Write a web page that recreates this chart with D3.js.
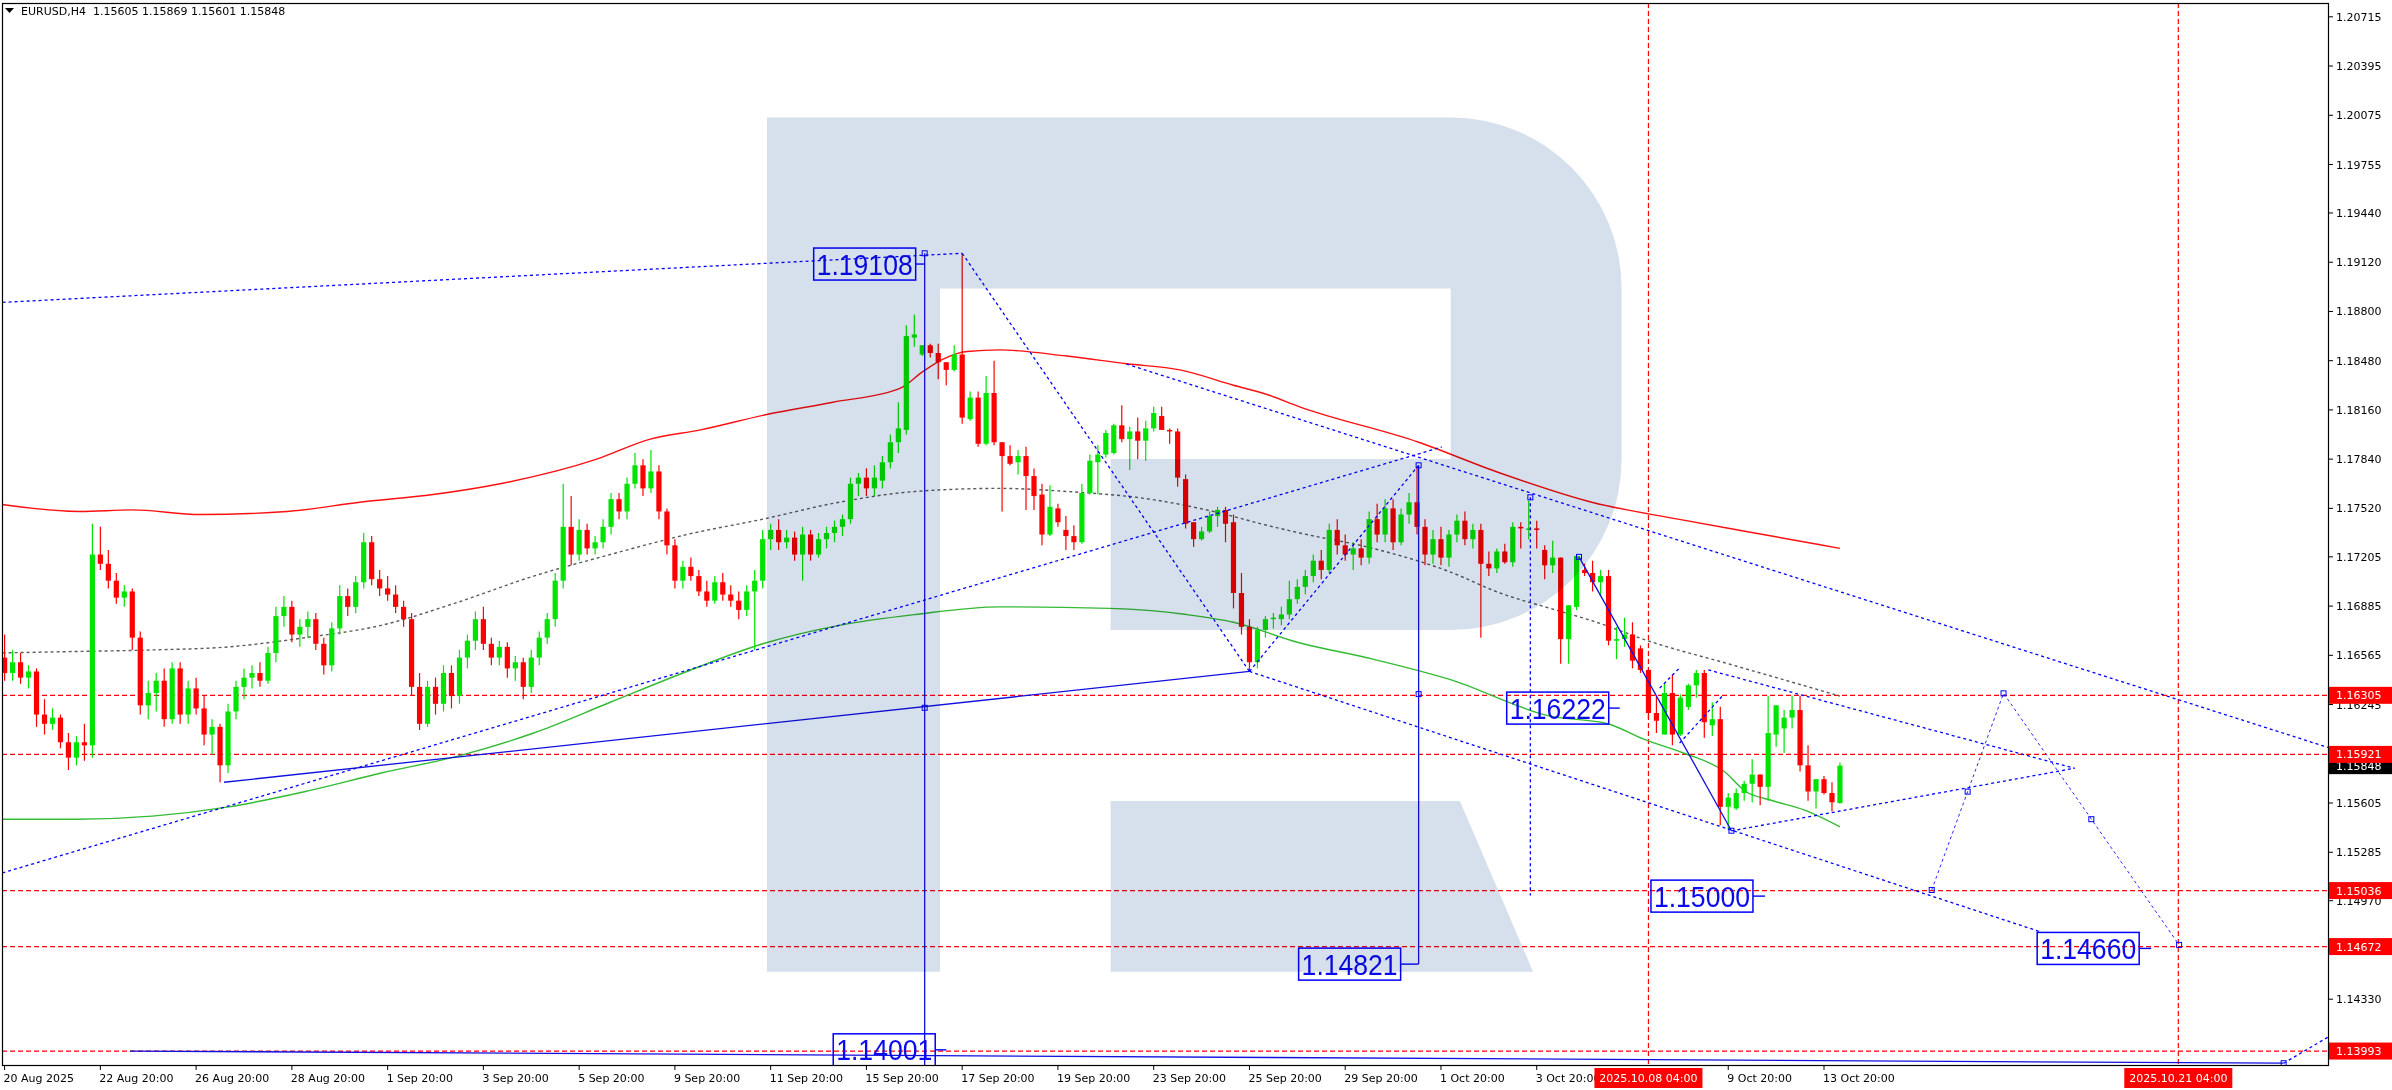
<!DOCTYPE html>
<html><head><meta charset="utf-8">
<script src="https://cdn.jsdelivr.net/npm/d3@7/dist/d3.min.js"></script>
<style>html,body{margin:0;padding:0;background:#fff;overflow:hidden}</style>
</head><body>
<svg id="c" width="2392" height="1090"></svg>
<script>
// ---------- DATA ----------
const header = "EURUSD,H4  1.15605 1.15869 1.15601 1.15848";
const open = [
1.1655,1.1645,1.1652,1.1642,1.1646,1.1618,1.1612,1.1616,1.1600,1.1590,
1.1600,1.1598,1.1722,1.1716,1.1705,1.1694,1.1698,1.1668,1.1624,1.1632,
1.1640,1.1615,1.1648,1.1618,1.1635,1.1622,1.1605,1.1610,1.1585,1.1620,
1.1636,1.1642,1.1645,1.1640,1.1658,1.1682,1.1688,1.1670,1.1675,1.1680,
1.1664,1.1650,1.1674,1.1695,1.1688,1.1704,1.1730,1.1706,1.1700,1.1696,
1.1688,1.1680,1.1636,1.1612,1.1636,1.1625,1.1645,1.1630,1.1655,1.1666,
1.1680,1.1664,1.1655,1.1662,1.1648,1.1652,1.1636,1.1655,1.1668,1.1680,
1.1705,1.1740,1.1722,1.1738,1.1726,1.1730,1.1740,1.1758,1.1750,1.1768,
1.1780,1.1765,1.1776,1.1750,1.1728,1.1705,1.1714,1.1708,1.1698,1.1692,
1.1704,1.1696,1.1692,1.1686,1.1698,1.1705,1.1732,1.1738,1.1730,1.1733,
1.1722,1.1735,1.1722,1.1732,1.1736,1.1740,1.1745,1.1768,1.1772,1.1765,
1.1770,1.1782,1.1795,1.1803,1.1863,1.1852,1.1858,1.1853,1.1847,1.1842,
1.1852,1.1810,1.1824,1.1794,1.1827,1.1795,1.1786,1.1782,1.1786,1.1773,
1.1761,1.1735,1.1752,1.1738,1.1734,1.1730,1.1762,1.1782,1.1787,1.1788,
1.1806,1.1797,1.1802,1.1796,1.1804,1.1812,1.1803,1.1802,1.1771,1.1743,
1.1732,1.1737,1.1747,1.1751,1.1743,1.1697,1.1675,1.1652,1.1673,1.1680,
1.1680,1.1683,1.1693,1.1701,1.1708,1.1718,1.1712,1.1738,1.1728,1.1722,
1.1726,1.1720,1.1745,1.1735,1.1752,1.1730,1.1748,1.1756,1.1740,1.1722,
1.1732,1.1720,1.1735,1.1744,1.1732,1.1738,1.1716,1.1713,1.1724,1.1717,
1.1740,1.1738,1.1739,1.1725,1.1715,1.1720,1.1667,1.1688,1.1712,1.1710,
1.1704,1.1708,1.1666,1.1667,1.1670,1.1661,1.1647,1.1619,1.1605,1.1632,
1.1605,1.1623,1.1637,1.1645,1.1611,1.1615,1.1558,1.1557,1.1567,1.1573,
1.1579,1.1571,1.1605,1.1609,1.1616,1.1621,1.1585,1.1568,1.1576,1.1567,
1.15605];
const high = [
1.1670,1.1660,1.1658,1.1650,1.1648,1.1628,1.1622,1.1618,1.1606,1.1604,
1.1612,1.1742,1.1740,1.1725,1.1710,1.1702,1.1700,1.1672,1.1640,1.1645,
1.1648,1.1652,1.1652,1.1640,1.1642,1.1630,1.1615,1.1612,1.1625,1.1640,
1.1648,1.1650,1.1652,1.1662,1.1688,1.1695,1.1692,1.1680,1.1685,1.1684,
1.1668,1.1678,1.1702,1.1700,1.1708,1.1736,1.1734,1.1712,1.1708,1.1702,
1.1692,1.1684,1.1645,1.1640,1.1642,1.1650,1.1650,1.1660,1.1670,1.1685,
1.1688,1.1668,1.1666,1.1665,1.1656,1.1655,1.1660,1.1672,1.1684,1.1710,
1.1768,1.1760,1.1745,1.1742,1.1734,1.1745,1.1762,1.1762,1.1772,1.1788,
1.1784,1.1790,1.1780,1.1752,1.1732,1.1718,1.1720,1.1712,1.1705,1.1708,
1.1710,1.1702,1.1698,1.1702,1.1712,1.1738,1.1742,1.1745,1.1738,1.1737,
1.1740,1.1738,1.1736,1.1740,1.1744,1.1748,1.1772,1.1775,1.1778,1.1780,
1.1786,1.1800,1.1821,1.1871,1.1878,1.1858,1.1859,1.1859,1.1847,1.1858,
1.1918,1.1828,1.1828,1.1838,1.1848,1.1795,1.1793,1.1790,1.1792,1.1778,
1.1768,1.1767,1.1755,1.1747,1.1741,1.1768,1.1787,1.1793,1.1803,1.1807,
1.1819,1.1805,1.1811,1.1809,1.1818,1.1818,1.1804,1.1804,1.1774,1.1743,
1.1740,1.1750,1.1753,1.1753,1.1748,1.1710,1.1680,1.1675,1.1682,1.1684,
1.1688,1.1705,1.1706,1.1712,1.1722,1.1725,1.1742,1.1745,1.1735,1.1730,
1.1732,1.1750,1.1755,1.1758,1.1758,1.1752,1.1762,1.1779,1.1745,1.1738,
1.1740,1.1738,1.1748,1.1750,1.1742,1.1742,1.1724,1.1726,1.1729,1.1743,
1.1743,1.1757,1.1744,1.1728,1.1731,1.1720,1.1689,1.1722,1.1716,1.1718,
1.1712,1.1712,1.1675,1.1681,1.1678,1.1663,1.1648,1.1630,1.1638,1.1644,
1.1631,1.1638,1.1647,1.1647,1.1626,1.1623,1.1567,1.1570,1.1575,1.1589,
1.1579,1.1630,1.1624,1.1621,1.1630,1.1630,1.1598,1.1576,1.1578,1.1574,
1.15869];
const low = [
1.1640,1.1640,1.1638,1.1635,1.1610,1.1605,1.1608,1.1596,1.1582,1.1585,
1.1588,1.1590,1.1712,1.1700,1.1690,1.1688,1.1660,1.1618,1.1615,1.1620,
1.1610,1.1612,1.1612,1.1612,1.1618,1.1598,1.1592,1.1574,1.1580,1.1615,
1.1628,1.1635,1.1636,1.1638,1.1652,1.1675,1.1665,1.1662,1.1668,1.1660,
1.1644,1.1646,1.1670,1.1682,1.1684,1.1700,1.1702,1.1695,1.1692,1.1684,
1.1675,1.1630,1.1608,1.1610,1.1618,1.1620,1.1622,1.1625,1.1648,1.1660,
1.1660,1.1650,1.1650,1.1642,1.1640,1.1628,1.1632,1.1650,1.1664,1.1675,
1.1700,1.1715,1.1718,1.1722,1.1722,1.1726,1.1735,1.1745,1.1745,1.1765,
1.1760,1.1762,1.1745,1.1722,1.1700,1.1700,1.1705,1.1695,1.1688,1.1690,
1.1692,1.1688,1.1680,1.1682,1.1660,1.1700,1.1725,1.1725,1.1726,1.1718,
1.1705,1.1718,1.1720,1.1726,1.1730,1.1734,1.1742,1.1760,1.1760,1.1760,
1.1765,1.1778,1.1788,1.1800,1.1857,1.1851,1.1850,1.1836,1.1832,1.1841,
1.1807,1.1809,1.1792,1.1793,1.1793,1.1750,1.1780,1.1774,1.1751,1.1751,
1.1728,1.1734,1.1740,1.1725,1.1725,1.1729,1.1761,1.1761,1.1785,1.1787,
1.1795,1.1777,1.1784,1.1783,1.1802,1.1803,1.1794,1.1766,1.1739,1.1727,
1.1731,1.1736,1.1740,1.1730,1.1687,1.1670,1.1646,1.1648,1.1668,1.1674,
1.1676,1.1680,1.1690,1.1696,1.1704,1.1706,1.1710,1.1722,1.1718,1.1712,
1.1715,1.1716,1.1730,1.1730,1.1725,1.1728,1.1742,1.1735,1.1715,1.1716,
1.1715,1.1714,1.1730,1.1728,1.1726,1.1668,1.1708,1.1710,1.1716,1.1714,
1.1726,1.1732,1.1726,1.1706,1.1710,1.1651,1.1651,1.1686,1.1708,1.1698,
1.1695,1.1663,1.1654,1.1662,1.1648,1.1645,1.1615,1.1606,1.1605,1.1598,
1.1604,1.1621,1.1629,1.1603,1.1604,1.1546,1.1543,1.1556,1.1562,1.1561,
1.1559,1.1562,1.1597,1.1593,1.1609,1.1581,1.1562,1.1557,1.1566,1.1555,
1.15601];
const close = [
1.1645,1.1652,1.1642,1.1646,1.1618,1.1612,1.1616,1.1600,1.1590,1.1600,
1.1598,1.1722,1.1716,1.1705,1.1694,1.1698,1.1668,1.1624,1.1632,1.1640,
1.1615,1.1648,1.1618,1.1635,1.1622,1.1605,1.1610,1.1585,1.1620,1.1636,
1.1642,1.1645,1.1640,1.1658,1.1682,1.1688,1.1670,1.1675,1.1680,1.1664,
1.1650,1.1674,1.1695,1.1688,1.1704,1.1730,1.1706,1.1700,1.1696,1.1688,
1.1680,1.1636,1.1612,1.1636,1.1625,1.1645,1.1630,1.1655,1.1666,1.1680,
1.1664,1.1655,1.1662,1.1648,1.1652,1.1636,1.1655,1.1668,1.1680,1.1705,
1.1740,1.1722,1.1738,1.1726,1.1730,1.1740,1.1758,1.1750,1.1768,1.1780,
1.1765,1.1776,1.1750,1.1728,1.1705,1.1714,1.1708,1.1698,1.1692,1.1704,
1.1696,1.1692,1.1686,1.1698,1.1705,1.1732,1.1738,1.1730,1.1733,1.1722,
1.1735,1.1722,1.1732,1.1736,1.1740,1.1745,1.1768,1.1772,1.1765,1.1772,
1.1782,1.1795,1.1804,1.1864,1.1865,1.1858,1.1853,1.1847,1.1842,1.1852,
1.1811,1.1824,1.1794,1.1827,1.1795,1.1786,1.1781,1.1786,1.1773,1.1760,
1.1735,1.1753,1.1743,1.1734,1.1730,1.1762,1.1783,1.1787,1.1801,1.1806,
1.1797,1.1802,1.1796,1.1804,1.1814,1.1803,1.1802,1.1772,1.1742,1.1732,
1.1737,1.1747,1.1751,1.1742,1.1697,1.1675,1.1652,1.1673,1.1680,1.1681,
1.1683,1.1693,1.1701,1.1708,1.1718,1.1712,1.1738,1.1728,1.1722,1.1726,
1.1720,1.1745,1.1735,1.1752,1.1730,1.1748,1.1756,1.1740,1.1722,1.1732,
1.1720,1.1735,1.1744,1.1732,1.1738,1.1716,1.1713,1.1724,1.1717,1.1740,
1.1739,1.1739,1.1738,1.1715,1.1720,1.1667,1.1689,1.1721,1.1710,1.1704,
1.1708,1.1666,1.1667,1.1670,1.1653,1.1647,1.1619,1.1614,1.1632,1.1605,
1.1629,1.1637,1.1645,1.1613,1.1615,1.1558,1.1564,1.1567,1.1573,1.1579,
1.1571,1.1606,1.1624,1.1616,1.1621,1.1585,1.1568,1.1576,1.1567,1.1561,
1.15848];

const priceTicks = [1.20715,1.20395,1.20075,1.19755,1.19440,1.19120,1.18800,1.18480,1.18160,1.17840,
  1.17520,1.17205,1.16885,1.16565,1.16245,1.15605,1.15285,1.14970,1.14330,1.14010];
const timeTickBars = [0,12,24,36,48,60,72,84,96,108,120,132,144,156,168,180,192,216,228];
const timeTickLabels = ["20 Aug 2025","22 Aug 20:00","26 Aug 20:00","28 Aug 20:00","1 Sep 20:00","3 Sep 20:00",
  "5 Sep 20:00","9 Sep 20:00","11 Sep 20:00","15 Sep 20:00","17 Sep 20:00","19 Sep 20:00","23 Sep 20:00",
  "25 Sep 20:00","29 Sep 20:00","1 Oct 20:00","3 Oct 20:00","9 Oct 20:00","13 Oct 20:00"];
const levelLines = [1.16305,1.15921,1.15036,1.14672,1.13993];
const lastPrice = 1.15848;
const timeMarkBars = [206,272.4];
const timeMarkLabels = ["2025.10.08 04:00","2025.10.21 04:00"];

// moving averages: [bar index, price]
const maRed = [[-1,1.1755],[9.4,1.1750],[16,1.1751],[24.5,1.1748],[35.4,1.1750],[44.5,1.1756],[53.7,1.1761],
  [62.1,1.1768],[74.2,1.1784],[80.9,1.1797],[87.2,1.1803],[95.5,1.1813],[103.8,1.1821],[112.2,1.1830],
  [115.1,1.1841],[117.6,1.1849],[120.6,1.1854],[124.7,1.1855],[133.1,1.1851],[140.6,1.1846],[147.3,1.1842],
  [154,1.1832],[158.2,1.1826],[162.3,1.1818],[177.2,1.1795],[187.4,1.1775],[198.9,1.1756],[209.7,1.1745],
  [219.3,1.1736],[230,1.1726]];
const maGray = [[-1,1.1658],[9,1.1659],[18.5,1.1660],[28.1,1.1662],[37.7,1.1668],[47.2,1.1676],[56.8,1.1691],
  [66.3,1.1708],[75.9,1.1722],[85.5,1.1735],[95,1.1745],[104.6,1.1756],[114.1,1.1763],[124.7,1.1765],
  [133.1,1.1763],[143.5,1.1758],[151.5,1.1750],[158.2,1.1741],[162.3,1.1736],[171.5,1.1726],[181,1.1711],
  [187.4,1.1697],[193.7,1.1687],[198.9,1.1679],[206.5,1.1665],[216,1.1651],[222.7,1.1641],[230,1.1630]];
const maGreen = [[-1,1.1550],[9,1.1550],[18.5,1.1552],[28.1,1.1558],[37.7,1.1568],[47.2,1.1580],[56.8,1.1591],
  [66.3,1.1606],[75.9,1.1626],[85.5,1.1646],[95,1.1664],[104.6,1.1676],[114.1,1.1683],[124.7,1.1688],
  [138.5,1.1687],[148.1,1.1683],[154,1.1678],[162,1.1665],[171.5,1.1654],[181,1.1641],[193.7,1.1617],
  [200.9,1.1612],[205.4,1.1602],[210.4,1.1593],[215.5,1.1581],[218.2,1.1568],[221.6,1.1562],[225.5,1.1556],
  [230,1.1545]];

// analysis drawings: [bar index, price]
const dottedLines = [
  [[-1,1.18857],[120,1.19178]],
  [[120,1.19178],[156,1.1646]],
  [[140.6,1.18458],[300,1.1582]],
  [[-1,1.15140],[180.1,1.17919]],
  [[156,1.1646],[177.2,1.1780]],
  [[191.2,1.17592],[191.2,1.15004]],
  [[156,1.1646],[255,1.1477]],
  [[216.4,1.15424],[259.4,1.15831]],
  [[213.5,1.16470],[259.4,1.15831]],
  [[207.4,1.16352],[209.9,1.16483]],
  [[209.9,1.15994],[215.2,1.16297]],
  [[285.6,1.13914],[300,1.14353]]
];
const forecastPath = [[241.5,1.15040],[250.5,1.16318],[272.5,1.14683]];
const solidLines = [
  [[115.3,1.19178],[115.3,1.1390]],
  [[177.2,1.1780],[177.2,1.14558]],
  [[27.5,1.1574],[156,1.1646]],
  [[197.3,1.17205],[216.4,1.15425]],
  [[15.7,1.13993],[285.6,1.13914]]
];
const handlePoints = [[115.3,1.19178],[177.2,1.1780],[191.2,1.17592],[197.3,1.17205],[216.4,1.15425],
  [115.3,1.16224],[177.2,1.16313],[241.5,1.15040],[246,1.15679],[250.5,1.16318],[261.5,1.15500],[272.5,1.14683],
  [285.6,1.13914]];
const priceLabels = [
  {t:"1.19108", i:115.3, p:1.19108, tick:9},
  {t:"1.16222", i:202.4, p:1.16222, tick:11},
  {t:"1.14821", i:177.2, p:1.14558, tick:18},
  {t:"1.15000", i:220.6, p:1.15000, tick:12},
  {t:"1.14660", i:269.0, p:1.14660, tick:12},
  {t:"1.14001", i:118.0, p:1.14001, tick:11}
];

// ---------- DRAW ----------
const W=2392, H=1090, L=2, T=3, R=2328, B=1065;
const FONT = "'DejaVu Sans', Verdana, sans-serif";
const bull="#00e400", bear="#ff0000", blue="#0000ff";
const svg = d3.select("#c");
const x = d3.scaleLinear().domain([0,228]).range([4.6,1824.0]);
const y = d3.scaleLinear().domain([1.14330,1.20715]).range([999.2,16.8]);

svg.append("rect").attr("width",W).attr("height",H).attr("fill","#fff");
svg.append("clipPath").attr("id","pc").append("rect").attr("x",L).attr("y",T).attr("width",R-L).attr("height",B-T);
const g = svg.append("g").attr("clip-path","url(#pc)");

// horizontal levels
g.selectAll(null).data(levelLines).join("line")
  .attr("x1",L).attr("x2",R).attr("y1",d=>y(d)).attr("y2",d=>y(d))
  .attr("stroke","#ff0000").attr("stroke-width",1.2).attr("stroke-dasharray","5 3");
// vertical time marks
g.selectAll(null).data(timeMarkBars).join("line")
  .attr("x1",d=>x(d)).attr("x2",d=>x(d)).attr("y1",T).attr("y2",B)
  .attr("stroke","#ff0000").attr("stroke-width",1.2).attr("stroke-dasharray","5 3");

// moving averages
const maLine = d3.line().x(d=>x(d[0])).y(d=>y(d[1])).curve(d3.curveMonotoneX);
g.append("path").attr("d",maLine(maGreen)).attr("fill","none").attr("stroke","#33bb33").attr("stroke-width",1.4);
g.append("path").attr("d",maLine(maGray)).attr("fill","none").attr("stroke","#5a5a5a").attr("stroke-width",1.4).attr("stroke-dasharray","3 3");
g.append("path").attr("d",maLine(maRed)).attr("fill","none").attr("stroke","#ff1010").attr("stroke-width",1.4);

// candles
const bars = d3.range(open.length);
const col = i => close[i] >= open[i] ? bull : bear;
g.selectAll(null).data(bars).join("line")
  .attr("x1",i=>x(i)).attr("x2",i=>x(i)).attr("y1",i=>y(high[i])).attr("y2",i=>y(low[i]))
  .attr("stroke",col).attr("stroke-width",1.2);
g.selectAll(null).data(bars).join("rect")
  .attr("x",i=>x(i)-2.6).attr("width",5.2)
  .attr("y",i=>y(Math.max(open[i],close[i])))
  .attr("height",i=>Math.max(1.5,Math.abs(y(open[i])-y(close[i]))))
  .attr("fill",col);

// drawings
const seg = d3.line().x(d=>x(d[0])).y(d=>y(d[1]));
g.selectAll(null).data(dottedLines).join("path").attr("d",seg)
  .attr("fill","none").attr("stroke",blue).attr("stroke-width",1.3).attr("stroke-dasharray","3 3");
g.append("path").attr("d",seg(forecastPath)).attr("fill","none").attr("stroke","#2a2aff")
  .attr("stroke-width",1.0).attr("stroke-dasharray","3 3");
g.selectAll(null).data(solidLines).join("path").attr("d",seg)
  .attr("fill","none").attr("stroke","#1010e0").attr("stroke-width",1.3);
g.selectAll(null).data(handlePoints).join("rect")
  .attr("x",d=>x(d[0])-2.5).attr("y",d=>y(d[1])-2.5).attr("width",5).attr("height",5)
  .attr("fill","none").attr("stroke",blue).attr("stroke-width",1);

// price labels
const pl = g.selectAll(null).data(priceLabels).join("g");
pl.append("line").attr("x1",d=>x(d.i)-d.tick).attr("x2",d=>x(d.i)).attr("y1",d=>y(d.p)).attr("y2",d=>y(d.p))
  .attr("stroke",blue).attr("stroke-width",1.4);
pl.append("rect").attr("x",d=>x(d.i)-d.tick-102).attr("y",d=>y(d.p)-16).attr("width",102).attr("height",32)
  .attr("fill","none").attr("stroke",blue).attr("stroke-width",1.5);
pl.append("text").attr("x",d=>x(d.i)-d.tick-99).attr("y",d=>y(d.p)+10.5)
  .attr("textLength",96).attr("lengthAdjust","spacingAndGlyphs")
  .attr("font-family","'Liberation Sans', Arial, sans-serif").attr("font-size",29)
  .attr("fill","#0a0aee").text(d=>d.t);

// logo watermark (multiply over chart)
svg.append("path")
  .attr("d","M767,117.5 H1450.7 A170.9,170.9 0 0 1 1621.6,288.4 V459.1 A170.9,170.9 0 0 1 1450.7,630 H1110.6 V459.1 H1450.7 V288.4 H940 V971.7 H767 Z M1110.6,800.9 H1459.9 L1533.1,971.7 H1110.6 Z")
  .attr("fill","#d6e0ec").style("mix-blend-mode","multiply");

// frame
svg.append("rect").attr("x",L+0.5).attr("y",T+0.5).attr("width",R-L).attr("height",B-T)
  .attr("fill","none").attr("stroke","#000").attr("stroke-width",1.2);

// header
svg.append("path").attr("d","M5,8 L14,8 L9.5,13 Z").attr("fill","#000");
svg.append("text").attr("x",21).attr("y",15).attr("font-family",FONT).attr("font-size",11)
  .attr("fill","#000").style("white-space","pre").text(header);

// price axis
svg.selectAll(null).data(priceTicks).join("line")
  .attr("x1",R).attr("x2",R+5).attr("y1",d=>y(d)).attr("y2",d=>y(d)).attr("stroke","#000");
svg.selectAll(null).data(priceTicks).join("text")
  .attr("x",R+8).attr("y",d=>y(d)+4).attr("font-family",FONT).attr("font-size",11).attr("fill","#000")
  .text(d=>d.toFixed(5));

// value labels
const vl = [{p:lastPrice, c:"#000"}].concat(levelLines.map(p=>({p, c:"#ff0000"})));
const vg = svg.selectAll(null).data(vl).join("g");
vg.append("rect").attr("x",R+1).attr("y",d=>y(d.p)-8.5).attr("width",W-R-1).attr("height",17).attr("fill",d=>d.c);
vg.append("text").attr("x",R+8).attr("y",d=>y(d.p)+4).attr("font-family",FONT).attr("font-size",11)
  .attr("fill","#fff").text(d=>d.p.toFixed(5));

// time axis
svg.selectAll(null).data(timeTickBars).join("line")
  .attr("x1",d=>x(d)).attr("x2",d=>x(d)).attr("y1",B).attr("y2",B+5).attr("stroke","#000");
svg.selectAll(null).data(timeTickBars).join("text")
  .attr("x",d=>x(d)-1).attr("y",1082).attr("font-family",FONT).attr("font-size",11).attr("fill","#000")
  .text((d,k)=>timeTickLabels[k]);
const tm = svg.selectAll(null).data(timeMarkBars).join("g");
tm.append("rect").attr("x",d=>x(d)-54).attr("y",B+3).attr("width",108).attr("height",20).attr("fill","#ff0000");
tm.append("text").attr("x",d=>x(d)).attr("y",1082).attr("text-anchor","middle").attr("font-family",FONT)
  .attr("font-size",11).attr("fill","#fff").text((d,k)=>timeMarkLabels[k]);
</script>
</body></html>
